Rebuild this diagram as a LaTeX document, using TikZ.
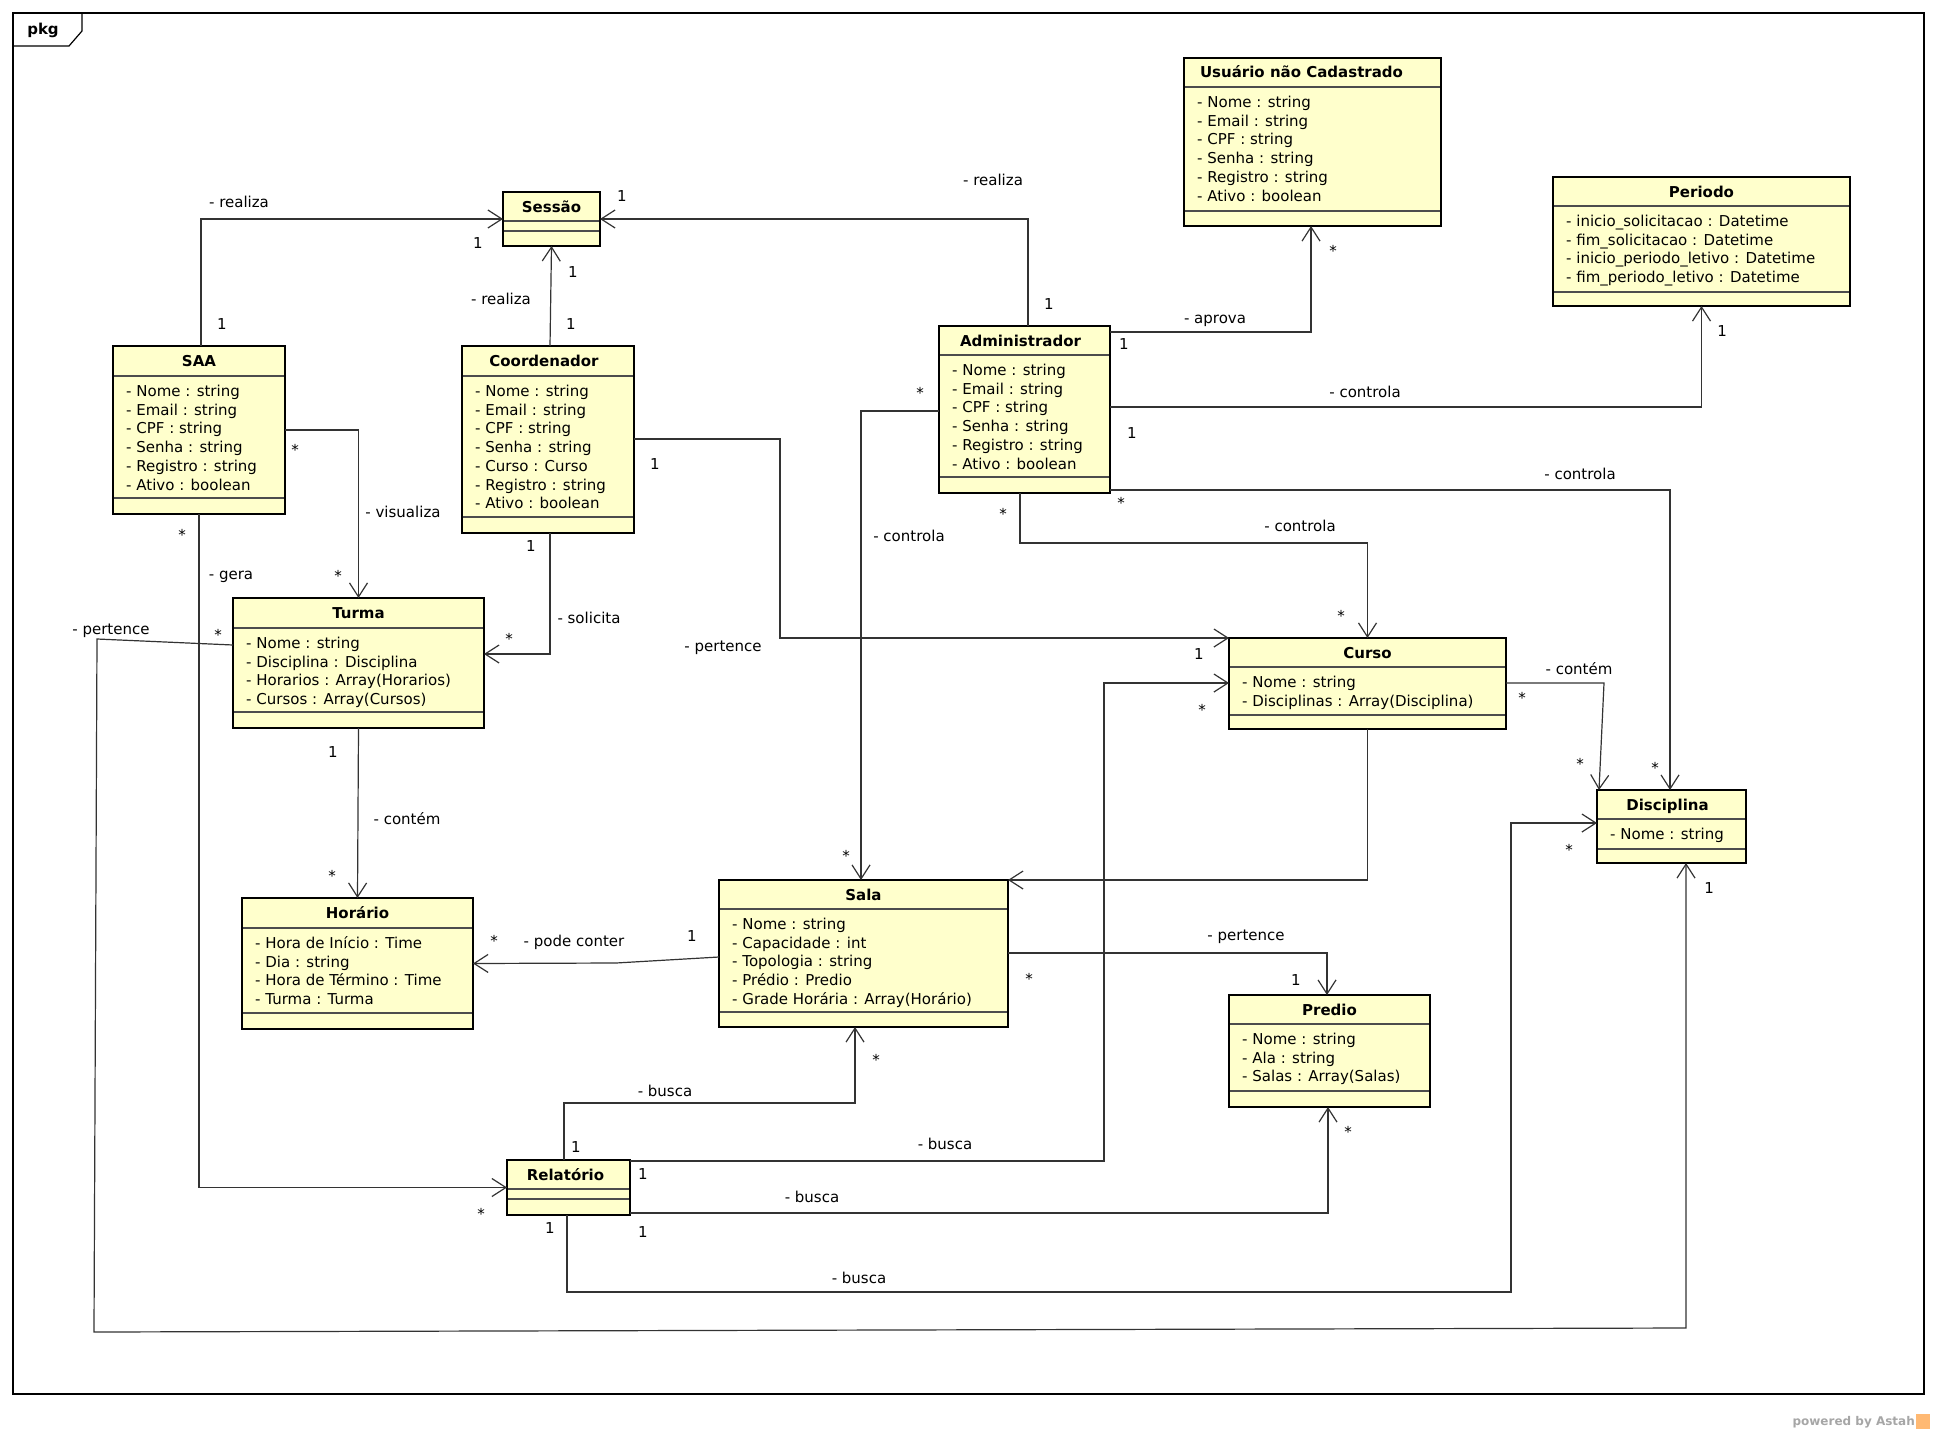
\documentclass[tikz,border=0pt]{standalone}
\usepackage{fontspec}
\setmainfont{DejaVu Sans}
\usetikzlibrary{arrows.meta}
\definecolor{classfill}{HTML}{FFFFCC}
\definecolor{linecol}{HTML}{333333}
\tikzset{
  boxfill/.style={rectangle, fill=classfill, inner sep=0pt, outer sep=0pt},
  compline/.style={draw=black!70, line width=1.1pt},
  boxborder/.style={draw=black, line width=2.8pt},
  titlefont/.style={font=\fontsize{15}{18}\selectfont\bfseries, inner sep=0pt},
  attrfont/.style={font=\fontsize{15}{18}\selectfont, inner sep=0pt},
  assoc/.style={draw=linecol, line width=1.2pt, -{Straight Barb[length=14pt,width=18pt]}},
  lab/.style={font=\fontsize{15}{18}\selectfont, inner sep=0pt},
  star/.style={lab, yshift=-3pt},
}
\newcommand\umlclass[9]{%
  \node[boxfill, minimum width={#4-#2}, minimum height={#5-#3}, anchor=north west] (#1) at (#2,#3) {};
  \draw[compline] (#1.west |- 0,#6) -- (#1.east |- 0,#6);
  \draw[compline] (#1.west |- 0,#7) -- (#1.east |- 0,#7);
  \draw[boxborder] (#1.north west) rectangle (#1.south east);
  \node[titlefont, anchor=base] (#1-name) at ({(#2+#4)/2},{(#3+#6)/2+5.5}) {#8};
  \if\relax\detokenize{#9}\relax\else
  \foreach \attrtxt [count=\attrnum] in {#9} {
    \node[attrfont, anchor=base west] (#1-attr\attrnum) at (#2+13,{#6+20.5+(\attrnum-1)*18.7}) {\attrtxt};
  }\fi
}
\begin{document}
\begin{tikzpicture}[x=1pt,y=-1pt]
\useasboundingbox (0,0) rectangle (1937,1434);
% frame
\draw[line width=1.2pt] (13,13) rectangle (1924,1394);
\draw[line width=1.2pt] (13,46) -- (69,46) -- (82,31) -- (82,13);
\node[titlefont] (pkg) at (43,30) {pkg};

% classes
\umlclass{sessao}{503}{192}{600}{246}{221}{231}{Sessão}{}
\umlclass{saa}{113}{346}{285}{514}{376}{498}{SAA}{- Nome : string,- Email : string,- CPF : string,- Senha : string,- Registro : string,- Ativo : boolean}
\umlclass{coord}{462}{346}{634}{533}{376}{517}{Coordenador\hspace*{8pt}}{- Nome : string,- Email : string,- CPF : string,- Senha : string,- Curso : Curso,- Registro : string,- Ativo : boolean}
\umlclass{admin}{939}{326}{1110}{493}{355}{477}{Administrador\hspace*{8pt}}{- Nome : string,- Email : string,- CPF : string,- Senha : string,- Registro : string,- Ativo : boolean}
\umlclass{usuario}{1184}{58}{1441}{226}{87}{211}{Usuário não Cadastrado\hspace*{22pt}}{- Nome : string,- Email : string,- CPF : string,- Senha : string,- Registro : string,- Ativo : boolean}
\umlclass{periodo}{1553}{177}{1850}{306}{206}{292}{Periodo}{- inicio\_solicitacao : Datetime,- fim\_solicitacao : Datetime,- inicio\_periodo\_letivo : Datetime,- fim\_periodo\_letivo : Datetime}
\umlclass{turma}{233}{598}{484}{728}{628}{712}{Turma}{- Nome : string,- Disciplina : Disciplina,- Horarios : Array(Horarios),- Cursos : Array(Cursos)}
\umlclass{horario}{242}{898}{473}{1029}{928}{1013}{Horário}{- Hora de Início : Time,- Dia : string,- Hora de Término : Time,- Turma : Turma}
\umlclass{sala}{719}{880}{1008}{1027}{909}{1012}{Sala}{- Nome : string,- Capacidade : int,- Topologia : string,- Prédio : Predio,- Grade Horária : Array(Horário)}
\umlclass{curso}{1229}{638}{1506}{729}{667}{715}{Curso}{- Nome : string,- Disciplinas : Array(Disciplina)}
\umlclass{disciplina}{1597}{790}{1746}{863}{819}{849}{Disciplina\hspace*{8pt}}{- Nome : string}
\umlclass{predio}{1229}{995}{1430}{1107}{1024}{1091}{Predio}{- Nome : string,- Ala : string,- Salas : Array(Salas)}
\umlclass{relatorio}{507}{1160}{630}{1215}{1189}{1199}{Relatório\hspace*{6pt}}{}

% connectors
\draw[assoc] (saa.north -| 201,0) |- (sessao.west);
\draw[assoc] (coord.north -| 550,0) -- (sessao.south);
\draw[assoc] (admin.north -| 1028,0) |- (sessao.east);
\draw[assoc] (admin.east |- 0,332) -| (usuario.south -| 1311,0);
\draw[assoc] (admin.east |- 0,407) -| (periodo.south);
\draw[assoc] (admin.east |- 0,490) -| (disciplina.north -| 1670,0);
\draw[assoc] (admin.south -| 1020,0) |- (curso.north |- 0,543) -- (curso.north);
\draw[assoc] (admin.west |- 0,411) -| (sala.north -| 861,0);
\draw[assoc] (coord.east |- 0,439) -| (curso.north west -| 780,0) -- (curso.north west);
\draw[assoc] (saa.east |- 0,430) -| (turma.north);
\draw[assoc] (saa.south) |- (relatorio.west);
\draw[assoc] (coord.south -| 550,0) |- (turma.east |- 0,654);
\draw[assoc] (turma.west |- 0,645) -- (97,639) -- (94,1332) -- (1686,1328) -- (disciplina.south -| 1686,0);
\draw[assoc] (turma.south) -- (horario.north);
\draw[assoc] (sala.west |- 0,957) -- (616,963) -- (horario.east);
\draw[assoc] (curso.south) |- (sala.north east);
\draw[assoc] (sala.east |- 0,953) -| (predio.north -| 1327,0);
\draw[assoc] (relatorio.north -| 564,0) |- (855,1103) -- (sala.south -| 855,0);
\draw[assoc] (relatorio.east |- 0,1161) -| (1104,683) -- (curso.west |- 0,683);
\draw[assoc] (relatorio.east |- 0,1213) -| (predio.south -| 1328,0);
\draw[assoc] (relatorio.south -| 567,0) |- (1511,1292) |- (disciplina.west |- 0,823);
\draw[assoc] (curso.east |- 0,683) -- (1604,683) -- (disciplina.north -| 1599,0);

% labels
\node[lab] (l1) at (239,202) {- realiza};
\node[lab] (m1a) at (222,324) {1};
\node[lab] (m1b) at (478,243) {1};
\node[lab] (m2a) at (573,272) {1};
\node[lab] (l2) at (501,299) {- realiza};
\node[lab] (m2b) at (571,324) {1};
\node[lab] (l3) at (993,180) {- realiza};
\node[lab] (m3a) at (1049,304) {1};
\node[lab] (m3b) at (622,196) {1};
\node[lab] (l4) at (1215,321) {- aprova};
\node[lab] (m4a) at (1124,344) {1};
\node[star] (m4b) at (1333,248) {*};
\node[lab] (l5) at (1365,392) {- controla};
\node[lab] (m5a) at (1132,433) {1};
\node[lab] (m5b) at (1722,331) {1};
\node[lab] (l6) at (1580,474) {- controla};
\node[star] (m6a) at (1121,500) {*};
\node[star] (m6b) at (1655,765) {*};
\node[lab] (l7) at (1300,526) {- controla};
\node[star] (m7a) at (1003,511) {*};
\node[star] (m7b) at (1341,613) {*};
\node[lab] (l8) at (909,536) {- controla};
\node[star] (m8a) at (920,390) {*};
\node[star] (m8b) at (846,853) {*};
\node[lab] (m9a) at (655,464) {1};
\node[lab] (l9) at (723,648) {- pertence};
\node[lab] (m9b) at (1199,654) {1};
\node[star] (m10a) at (295,447) {*};
\node[lab] (l10) at (403,512) {- visualiza};
\node[star] (m10b) at (338,573) {*};
\node[star] (m11a) at (182,532) {*};
\node[lab] (l11) at (231,577) {- gera};
\node[star] (m11b) at (481,1211) {*};
\node[lab] (m12a) at (531,546) {1};
\node[lab] (l12) at (589,618) {- solicita};
\node[star] (m12b) at (509,636) {*};
\node[lab] (l13) at (111,631) {- pertence};
\node[star] (m13a) at (218,632) {*};
\node[lab] (m13b) at (1709,888) {1};
\node[lab] (m14a) at (333,752) {1};
\node[lab] (l14) at (407,819) {- contém};
\node[star] (m14b) at (332,873) {*};
\node[lab] (m15a) at (692,936) {1};
\node[lab] (l15) at (574,942) {- pode conter};
\node[star] (m15b) at (494,938) {*};
\node[lab] (l17) at (1246,937) {- pertence};
\node[lab] (m17a) at (1296,980) {1};
\node[star] (m17b) at (1029,976) {*};
\node[lab] (l18) at (665,1091) {- busca};
\node[star] (m18a) at (876,1057) {*};
\node[lab] (m18b) at (576,1147) {1};
\node[lab] (l19) at (945,1144) {- busca};
\node[lab] (m19a) at (643,1174) {1};
\node[star] (m19b) at (1202,707) {*};
\node[lab] (l20) at (812,1197) {- busca};
\node[lab] (m20a) at (643,1232) {1};
\node[star] (m20b) at (1348,1129) {*};
\node[lab] (l21) at (859,1278) {- busca};
\node[lab] (m21a) at (550,1228) {1};
\node[star] (m21b) at (1569,847) {*};
\node[lab] (l22) at (1579,669) {- contém};
\node[star] (m22a) at (1522,695) {*};
\node[star] (m22b) at (1580,761) {*};

% watermark
\node[font=\fontsize{12}{14}\selectfont\bfseries, text=black!35, inner sep=0pt, anchor=east] (astah) at (1915,1422) {powered by Astah};
\fill[orange!55] (1916,1414) rectangle (1930,1429);
\end{tikzpicture}
\end{document}
